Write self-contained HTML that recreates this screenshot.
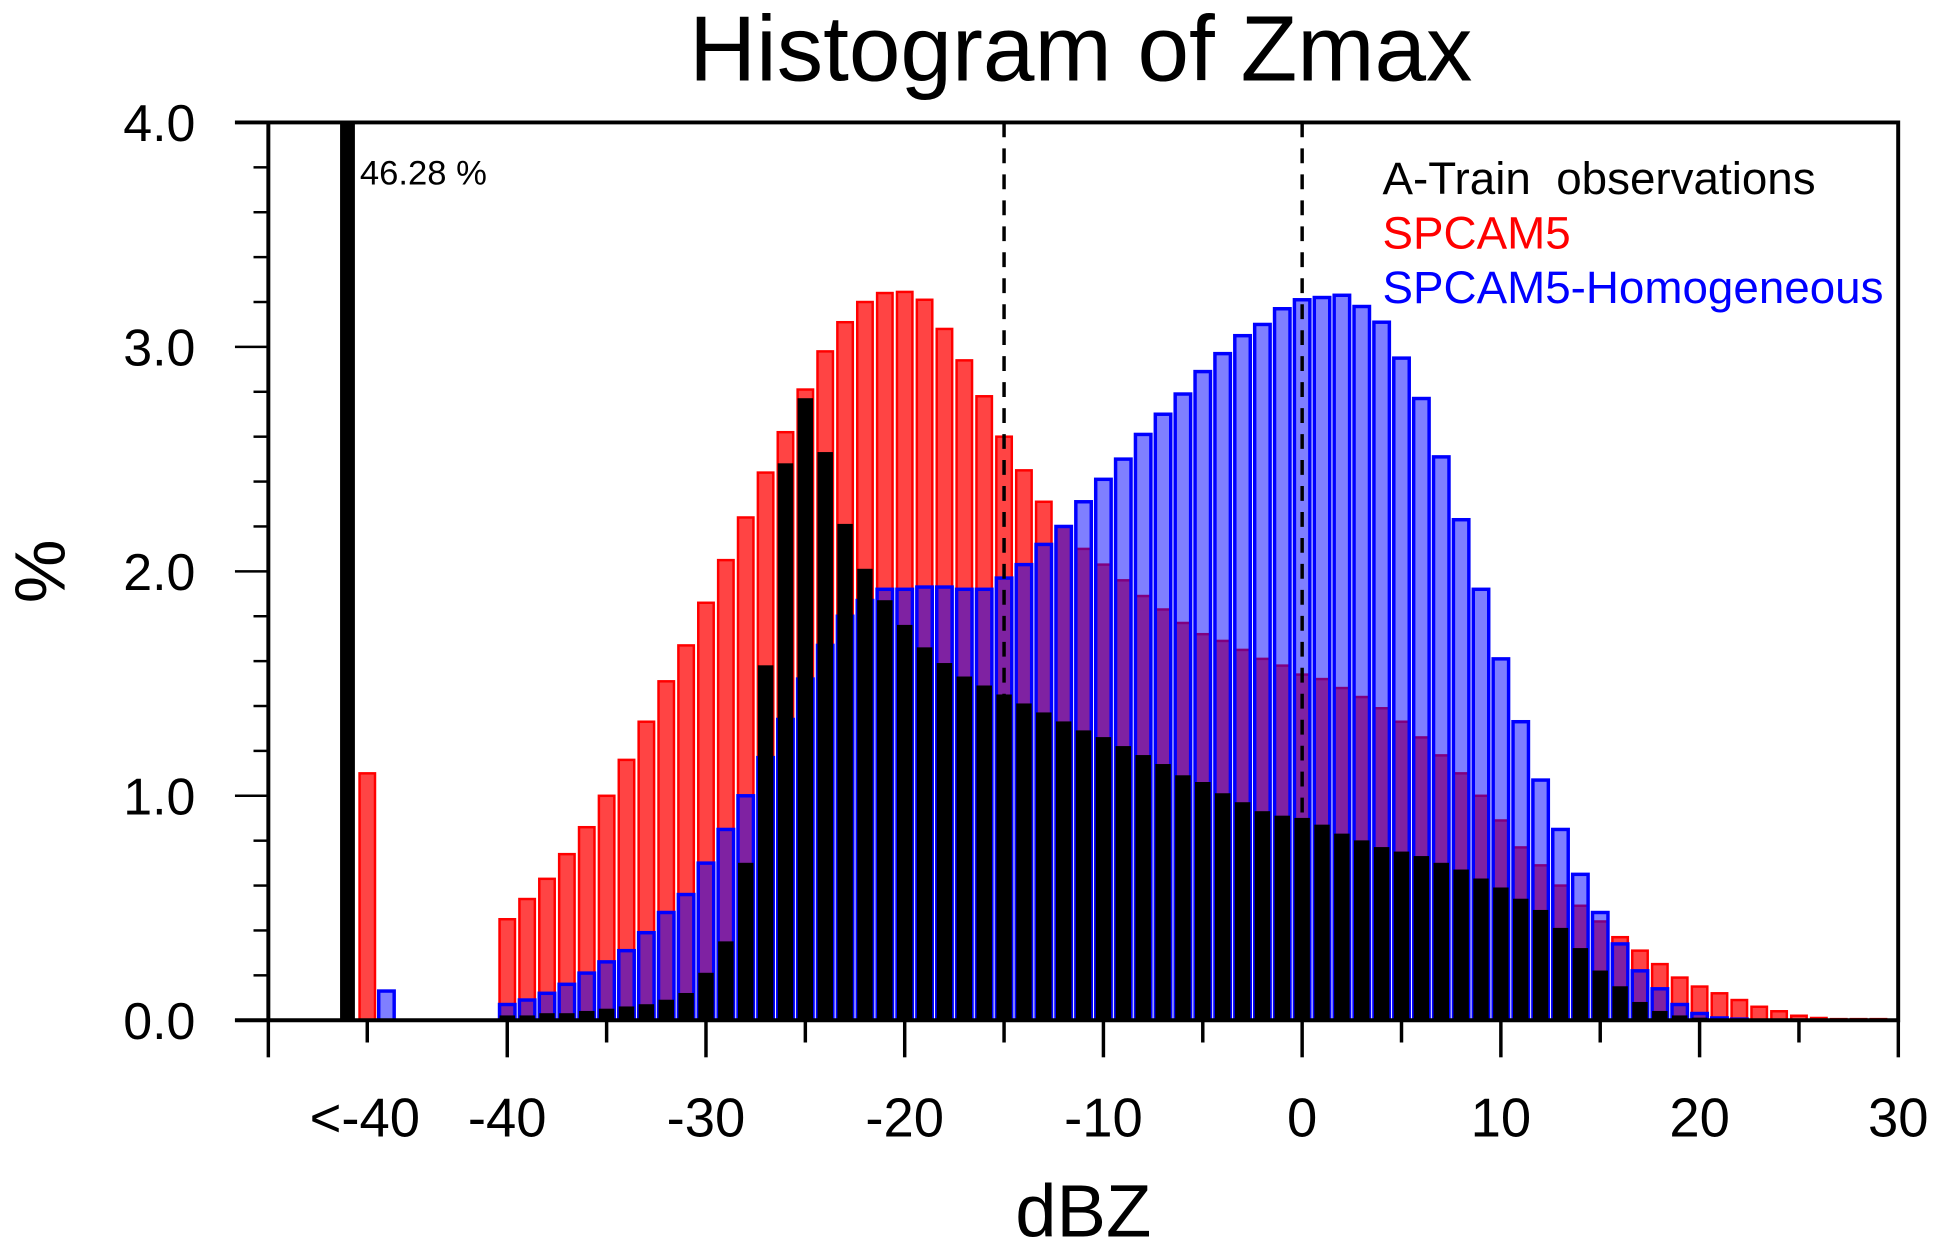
<!DOCTYPE html>
<html><head><meta charset="utf-8"><style>
html,body{margin:0;padding:0;background:#fff;}
svg{display:block;font-family:"Liberation Sans",sans-serif;}
</style></head><body>
<svg id="chart" width="1939" height="1252" viewBox="0 0 1568 1012.4" xmlns="http://www.w3.org/2000/svg">
<text x="874" y="65" font-size="75" text-anchor="middle">Histogram of Zmax</text>
<g id="bars"></g>
<g id="axes"></g>
<text x="52" y="462" font-size="58" text-anchor="middle" transform="rotate(-90 52 462)">%</text>
<text x="876" y="1000" font-size="60" text-anchor="middle">dBZ</text>
<text x="291" y="149" font-size="28">46.28 %</text>
<g font-size="37">
<text x="1118" y="157" fill="#000">A-Train&#160; observations</text>
<text x="1118" y="201" fill="#ff0000">SPCAM5</text>
<text x="1118" y="245" fill="#0000ff">SPCAM5-Homogeneous</text>
</g>
</svg>
<script>
const bins = [-40,-39,-38,-37,-36,-35,-34,-33,-32,-31,-30,-29,-28,-27,-26,-25,-24,-23,-22,-21,-20,-19,-18,-17,-16,-15,-14,-13,-12,-11,-10,-9,-8,-7,-6,-5,-4,-3,-2,-1,0,1,2,3,4,5,6,7,8,9,10,11,12,13,14,15,16,17,18,19,20,21,22,23,24,25,26,27,28,29];
const redVals = [0.45,0.54,0.63,0.74,0.86,1.00,1.16,1.33,1.51,1.67,1.86,2.05,2.24,2.44,2.62,2.81,2.98,3.11,3.20,3.24,3.245,3.21,3.08,2.94,2.78,2.60,2.45,2.31,2.20,2.10,2.03,1.96,1.89,1.83,1.77,1.72,1.69,1.65,1.61,1.58,1.54,1.52,1.48,1.44,1.39,1.33,1.26,1.18,1.10,1.00,0.89,0.77,0.69,0.60,0.51,0.44,0.37,0.31,0.25,0.19,0.15,0.12,0.09,0.06,0.04,0.02,0.01,0.005,0.005,0.005];
const blueVals = [0.07,0.09,0.12,0.16,0.21,0.26,0.31,0.39,0.48,0.56,0.70,0.85,1.00,1.17,1.34,1.52,1.67,1.80,1.87,1.92,1.92,1.93,1.93,1.92,1.92,1.97,2.03,2.12,2.20,2.31,2.41,2.50,2.61,2.70,2.79,2.89,2.97,3.05,3.10,3.17,3.21,3.22,3.23,3.18,3.11,2.95,2.77,2.51,2.23,1.92,1.61,1.33,1.07,0.85,0.65,0.48,0.34,0.22,0.14,0.07,0.03,0.01,0.005,0,0,0,0,0,0,0];
const obsVals = [0.02,0.02,0.03,0.03,0.04,0.05,0.06,0.07,0.09,0.12,0.21,0.35,0.70,1.58,2.48,2.77,2.53,2.21,2.01,1.87,1.76,1.66,1.59,1.53,1.49,1.45,1.41,1.37,1.33,1.29,1.26,1.22,1.18,1.14,1.09,1.06,1.01,0.97,0.93,0.91,0.90,0.87,0.83,0.80,0.77,0.75,0.73,0.70,0.67,0.63,0.59,0.54,0.49,0.41,0.32,0.22,0.15,0.08,0.04,0.02,0.01,0.005,0.005,0.005,0.005,0.005,0.005,0.005,0.005,0.005];
const below40Obs = 46.28, below40Red = 1.10, below40Blue = 0.13;
const yTicks = [0,1,2,3,4];
const yTickLabels = ["0.0","1.0","2.0","3.0","4.0"];
const xTicks = [-40,-30,-20,-10,0,10,20,30];
const xTickLabels = ["-40","-30","-20","-10","0","10","20","30"];
const dashedLines = [-15,0];

const L=217,R=1535,T=99,B=825,X0=1053,PX=16.07,PY=181.5;
const xs=d=>X0+d*PX;
const ys=v=>B-Math.min(v,4)*PY;
const belowX=297, BW=12.5;
const NS="http://www.w3.org/2000/svg";
const bars=document.getElementById('bars'), axes=document.getElementById('axes');
function mk(tag,attrs,parent){const e=document.createElementNS(NS,tag);for(const k in attrs)e.setAttribute(k,attrs[k]);parent.appendChild(e);return e;}
function bar(cx,v,fill,stroke,sw,name,w){
  const el=mk('rect',{x:cx-(w||BW)/2,y:ys(v),width:(w||BW),height:Math.max(B-ys(v),0),fill:fill,stroke:stroke,'stroke-width':sw},bars);
  
  
}
bins.forEach((d,i)=>bar(xs(d),redVals[i],'#ff4444','#ff0000',2,'bar-spcam5'));
bar(belowX,below40Red,'#ff4444','#ff0000',2,'bar-spcam5');
bins.forEach((d,i)=>{if(blueVals[i]>0)bar(xs(d),blueVals[i],'rgba(0,0,255,0.5)','#0000ff',2.8,'bar-spcam5-homogeneous');});
bar(belowX+15.5,below40Blue,'rgba(0,0,255,0.5)','#0000ff',2.8,'bar-spcam5-homogeneous');
dashedLines.forEach(d=>{const l=mk('line',{x1:xs(d),x2:xs(d),y1:T,y2:B,stroke:'#000','stroke-width':2.8,'stroke-dasharray':'12,9'},bars);
  
  });
bins.forEach((d,i)=>bar(xs(d),obsVals[i],'#000','#000',0.5,'bar-observations',12));
bar(belowX-16,below40Obs,'#000','#000',0,'bar-observations',12);
const frame=mk('path',{d:`M190 ${T} H${R} V${B} H190 M${L} ${T} V${B}`,fill:'none',stroke:'#000','stroke-width':3.2},axes);


for(let v=0;v<=4.001;v+=0.2){
  const major=Math.abs(v-Math.round(v))<0.01;
  const t=mk('line',{x1:major?190:205,x2:L,y1:ys(v),y2:ys(v),stroke:'#000','stroke-width':2},axes);
  
  
}
yTicks.forEach((v,i)=>{const t=mk('text',{x:158,y:ys(v)+15,'font-size':42,'text-anchor':'end'},axes);t.textContent=yTickLabels[i];
  
  });
for(let d=-40;d<=30;d+=5){
  const major=d%10===0;
  const t=mk('line',{x1:xs(d),x2:xs(d),y1:B,y2:major?855:843,stroke:'#000','stroke-width':2.8},axes);
  
  
}
[[L,855],[belowX,843]].forEach(p=>{const t=mk('line',{x1:p[0],x2:p[0],y1:B,y2:p[1],stroke:'#000','stroke-width':2.8},axes);
  
  });
xTicks.forEach((d,i)=>{const t=mk('text',{x:xs(d),y:919,'font-size':44,'text-anchor':'middle'},axes);t.textContent=xTickLabels[i];
  
  });
const lt=mk('text',{x:belowX-2,y:919,'font-size':44,'text-anchor':'middle'},axes);lt.textContent='<-40';


</script>
</body></html>
